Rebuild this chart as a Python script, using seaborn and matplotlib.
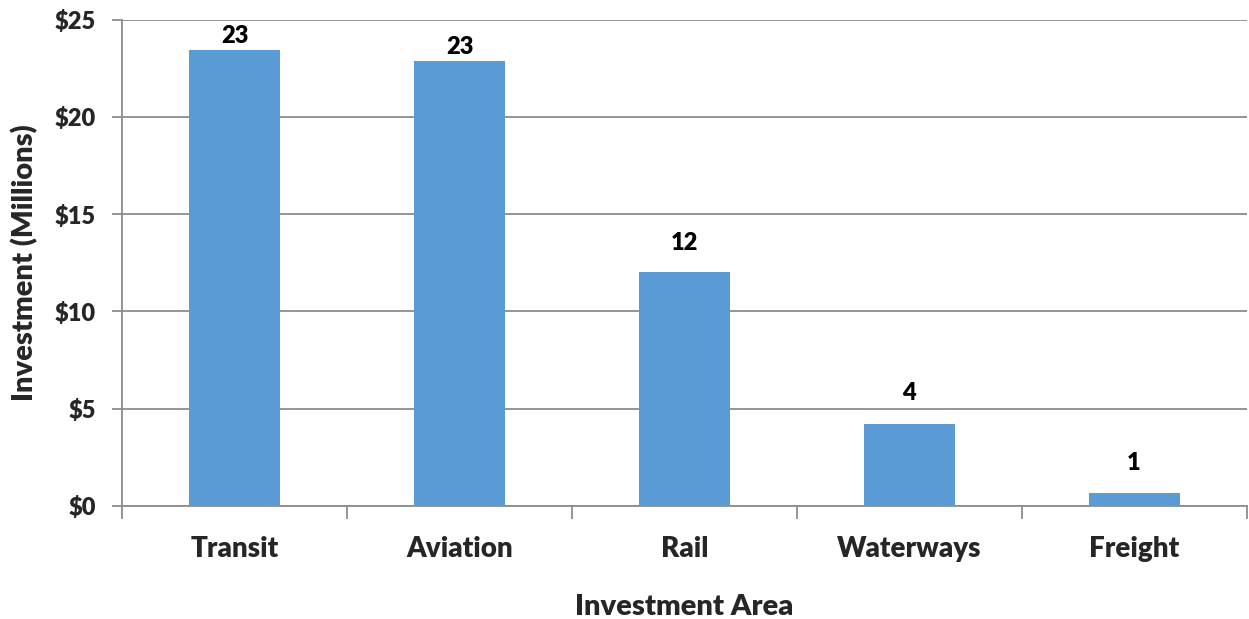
import matplotlib
matplotlib.use("Agg")
import matplotlib.pyplot as plt
import seaborn as sns
import pandas as pd
from matplotlib.ticker import MultipleLocator, FuncFormatter

# ── data ──────────────────────────────────────────────────────────────────────
areas = ["Transit", "Aviation", "Rail", "Waterways", "Freight"]
investment = [23.45, 22.9, 12.0, 4.22, 0.67]   # $ millions
labels = ["23", "23", "12", "4", "1"]

# label gap above each bar (points) - top two sit tight under the frame
label_gap = [2, 2, 13.5, 14, 13.5]

df = pd.DataFrame({"area": areas, "investment": investment})

sns.set_theme(style="white")
plt.rcParams["font.family"] = ["Lato", "DejaVu Sans"]
plt.rcParams["font.weight"] = "bold"

fig = plt.figure(figsize=(12.49, 6.19), dpi=100)
ax = fig.add_axes([0.098, 0.183, 0.9, 0.785])

sns.barplot(data=df, x="area", y="investment", color="#5B9BD5",
            width=0.405, saturation=1, linewidth=0, ax=ax, zorder=3)

for i, (v, lab, g) in enumerate(zip(investment, labels, label_gap)):
    ax.annotate(lab, (i, v), xytext=(0, g), textcoords="offset points",
                ha="center", va="bottom", fontsize=17,
                fontweight="heavy", color="black")

ax.set_xlim(-0.5, 4.5)
ax.set_ylim(0, 25)
ax.yaxis.set_major_locator(MultipleLocator(5))
ax.yaxis.set_major_formatter(FuncFormatter(lambda v, p: f"${v:.0f}"))
ax.grid(axis="y", color="#8c8c8c", lw=1.3, zorder=0)

# boundary ticks between categories
ax.set_xticks([i - 0.5 for i in range(6)], minor=True)
ax.tick_params(axis="x", which="major", length=0, pad=22, labelsize=20)
ax.tick_params(axis="x", which="minor", length=9, width=1.3,
               color="#8c8c8c", direction="out")
ax.tick_params(axis="y", length=7, width=1.3, color="#8c8c8c",
               direction="out", labelsize=17, pad=12)
ax.tick_params(left=True, bottom=True, which="both")
for lab in ax.get_xticklabels() + ax.get_yticklabels():
    lab.set_fontweight("heavy")

for s in ["top", "right"]:
    ax.spines[s].set_visible(False)
for s in ["left", "bottom"]:
    ax.spines[s].set_color("#8c8c8c")
    ax.spines[s].set_linewidth(1.3)

ax.set_xlabel("Investment Area", fontsize=21, fontweight="heavy", labelpad=23)
ax.set_ylabel("Investment (Millions)", fontsize=21, fontweight="heavy", labelpad=12)

fig.savefig("out.png", dpi=100)
